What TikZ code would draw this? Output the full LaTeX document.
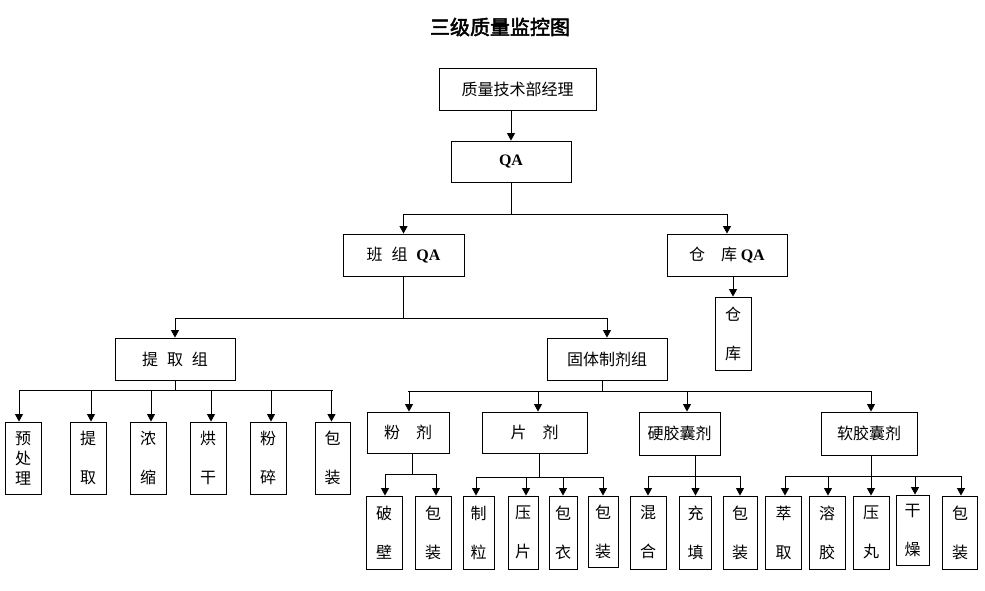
\documentclass[tikz,border=0pt]{standalone}
\usepackage{fontspec}
\setmainfont{Liberation Serif}
\newfontfamily\cjk[AutoFakeBold=2.5]{Noto Sans CJK SC}
\usetikzlibrary{arrows.meta}
\newcommand{\QAtxt}{{\rmfamily\bfseries QA}}
\newcommand{\gap}{\hspace{0.55em}}
\begin{document}
\begin{tikzpicture}[x=1pt,y=-1pt,
  line/.style={draw=black,line width=0.9pt},
  arr/.style={line,-{Triangle[width=8pt,length=7.5pt]}},
  hbox/.style={draw=black,line width=0.9pt,inner sep=0pt,font=\cjk\fontsize{16}{18}\selectfont},
  vbox/.style={draw=black,line width=0.9pt,inner sep=0pt,align=center,minimum height=73pt,font=\cjk\fontsize{16}{20}\selectfont}]
\useasboundingbox (0,0) rectangle (985,590);
\node[font=\cjk\bfseries\fontsize{20}{22}\selectfont] (title) at (500,27) {三级质量监控图};
% level 1
\node[hbox,minimum width=157pt,minimum height=42pt] (mgr) at (517.5,89) {质量技术部经理};
\node[hbox,minimum width=120pt,minimum height=41pt] (qa) at (511,161.5) {\QAtxt};
% level 2
\node[hbox,minimum width=121pt,minimum height=42pt] (bz) at (403.5,255) {班\gap 组\gap \QAtxt};
\node[hbox,minimum width=120pt,minimum height=42pt] (ckqa) at (727,255) {仓\quad 库\ \QAtxt};
\node[vbox,minimum width=36pt] (ck) at (733,333.5) {仓\\[19pt]库};
% level 3
\node[hbox,minimum width=120pt,minimum height=42pt] (tqz) at (175,359) {提\gap 取\gap 组};
\node[hbox,minimum width=120pt,minimum height=42pt] (gt) at (607,359) {固体制剂组};
% extraction children
\node[vbox,minimum width=36pt,minimum height=72pt] (e1) at (23,458) {预\\处\\理};
\node[vbox,minimum width=36pt,minimum height=72pt] (e2) at (88,458) {提\\[19pt]取};
\node[vbox,minimum width=36pt,minimum height=72pt] (e3) at (148,458) {浓\\[19pt]缩};
\node[vbox,minimum width=36pt,minimum height=72pt] (e4) at (208,458) {烘\\[19pt]干};
\node[vbox,minimum width=36pt,minimum height=72pt] (e5) at (268,458) {粉\\[19pt]碎};
\node[vbox,minimum width=35pt,minimum height=72pt] (e6) at (332.5,458) {包\\[19pt]装};
% solid dosage groups
\node[hbox,minimum width=82pt,minimum height=41pt] (fj) at (408,432.5) {粉\quad 剂};
\node[hbox,minimum width=105pt,minimum height=41pt] (pj) at (534.5,432.5) {片\quad 剂};
\node[hbox,minimum width=81pt,minimum height=43pt] (yj) at (679.5,433.5) {硬胶囊剂};
\node[hbox,minimum width=96pt,minimum height=43pt] (rj) at (869,433.5) {软胶囊剂};
% leaves
\node[vbox,minimum width=36pt] (f1) at (384,532.5) {破\\[19pt]壁};
\node[vbox,minimum width=36pt] (f2) at (433,532.5) {包\\[19pt]装};
\node[vbox,minimum width=31pt] (p1) at (478.5,532.5) {制\\[19pt]粒};
\node[vbox,minimum width=30pt] (p2) at (523,532.5) {压\\[19pt]片};
\node[vbox,minimum width=28pt] (p3) at (563,532.5) {包\\[19pt]衣};
\node[vbox,minimum width=30pt,minimum height=71pt] (p4) at (603,531.5) {包\\[19pt]装};
\node[vbox,minimum width=36pt] (y1) at (648,532.5) {混\\[19pt]合};
\node[vbox,minimum width=32pt] (y2) at (695.5,532.5) {充\\[19pt]填};
\node[vbox,minimum width=34pt] (y3) at (740,532.5) {包\\[19pt]装};
\node[vbox,minimum width=36pt] (r1) at (783.5,532.5) {萃\\[19pt]取};
\node[vbox,minimum width=36pt] (r2) at (827,532.5) {溶\\[19pt]胶};
\node[vbox,minimum width=36pt] (r3) at (871,532.5) {压\\[19pt]丸};
\node[vbox,minimum width=33pt,minimum height=70pt] (r4) at (912.5,530) {干\\[19pt]燥};
\node[vbox,minimum width=35pt] (r5) at (960,532.5) {包\\[19pt]装};
% connectors
\draw[arr] (mgr.south -| qa.north) -- (qa.north);
\draw[line] (qa.south) -- ++(0,32) coordinate (b1);
\draw[line] (b1 -| bz.north) -- (b1 -| ckqa.north);
\draw[arr] (b1 -| bz.north) -- (bz.north);
\draw[arr] (b1 -| ckqa.north) -- (ckqa.north);
\draw[arr] (ckqa.south -| ck.north) -- (ck.north);
\draw[line] (bz.south) -- ++(0,42) coordinate (b2);
\draw[line] (b2 -| tqz.north) -- (b2 -| gt.north);
\draw[arr] (b2 -| tqz.north) -- (tqz.north);
\draw[arr] (b2 -| gt.north) -- (gt.north);
% extraction
\draw[line] (tqz.south) -- ++(0,10) coordinate (b3);
\draw[line] ([xshift=-4pt]b3 -| e1.north) -- (b3 -| e6.north);
\foreach \n/\s in {e1/-4,e2/3,e3/3,e4/3,e5/3,e6/-1}
  \draw[arr] ([xshift=\s pt]b3 -| \n.north) -- ([xshift=\s pt]\n.north);
% solid
\draw[line] ([xshift=-5pt]gt.south) -- ++(0,11) coordinate (b4);
\draw[line] (b4 -| fj.north) -- ([xshift=2pt]b4 -| rj.north);
\draw[arr] ([xshift=1pt]b4 -| fj.north) -- ([xshift=1pt]fj.north);
\draw[arr] ([xshift=3.5pt]b4 -| pj.north) -- ([xshift=3.5pt]pj.north);
\draw[arr] ([xshift=7.5pt]b4 -| yj.north) -- ([xshift=7.5pt]yj.north);
\draw[arr] ([xshift=2pt]b4 -| rj.north) -- ([xshift=2pt]rj.north);
% powder
\draw[line] ([xshift=4pt]fj.south) -- ++(0,21) coordinate (b5);
\draw[line] ([xshift=1pt]b5 -| f1.north) -- ([xshift=3pt]b5 -| f2.north);
\draw[arr] ([xshift=1pt]b5 -| f1.north) -- ([xshift=1pt]f1.north);
\draw[arr] ([xshift=3pt]b5 -| f2.north) -- ([xshift=3pt]f2.north);
% tablet
\draw[line] ([xshift=4.5pt]pj.south) -- ++(0,23.5) coordinate (b6);
\draw[line] ([xshift=-2.5pt]b6 -| p1.north) -- (b6 -| p4.north);
\foreach \n/\s in {p1/-2.5,p2/3,p3/0,p4/0}
  \draw[arr] ([xshift=\s pt]b6 -| \n.north) -- ([xshift=\s pt]\n.north);
% hard capsule
\draw[line] (yj.south -| y2.north) -- ++(0,21) coordinate (b7);
\draw[line] (b7 -| y1.north) -- (b7 -| y3.north);
\foreach \n in {y1,y2,y3}
  \draw[arr] (b7 -| \n.north) -- (\n.north);
% soft capsule
\draw[line] (rj.south -| r3.north) -- ++(0,21) coordinate (b8);
\draw[line] ([xshift=1.5pt]b8 -| r1.north) -- ([xshift=1pt]b8 -| r5.north);
\foreach \n/\s in {r1/1.5,r2/1,r3/0,r4/2.5,r5/1}
  \draw[arr] ([xshift=\s pt]b8 -| \n.north) -- ([xshift=\s pt]\n.north);
\end{tikzpicture}
\end{document}
